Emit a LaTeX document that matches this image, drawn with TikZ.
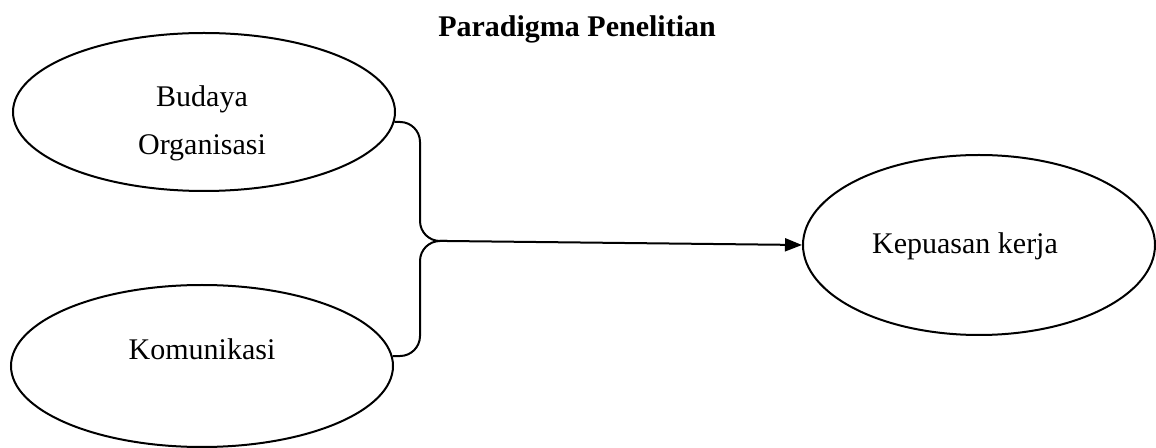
\documentclass[tikz,border=0pt]{standalone}
\usepackage{fontspec}
\setmainfont{Liberation Serif}
\usetikzlibrary{shapes.geometric, arrows.meta}

\begin{document}
\begin{tikzpicture}[
        x=0.5pt, y=-0.5pt,
        oval/.style={ellipse, draw=black, line width=1pt, inner sep=0pt},
        txt/.style={align=center, font=\fontsize{15}{24}\selectfont},
        heading/.style={font=\fontsize{15}{18}\selectfont\bfseries},
        link/.style={draw=black, line width=1pt, rounded corners=10pt}
    ]
        \useasboundingbox (0,0) rectangle (1156,448);

        % Title
        \node (title) at (577,37) [heading, anchor=base] {Paradigma Penelitian};

        % Nodes
        \node (budaya) at (204,112) [oval, minimum width=191pt, minimum height=79pt,
            label={[txt, xshift=-1pt, yshift=-5.5pt]center:Budaya\\Organisasi}] {};
        \node (komunikasi) at (202,366) [oval, minimum width=191pt, minimum height=81pt,
            label={[txt, yshift=8.5pt]center:Komunikasi}] {};
        \node (kepuasan) at (979,245) [oval, minimum width=176pt, minimum height=90pt,
            label={[txt, xshift=-7pt, yshift=-0.5pt]center:Kepuasan kerja}] {};

        % Brace
        \coordinate (spine) at (420,241);
        \coordinate (join) at (447,241);
        \draw[link] (budaya.-3) -| (spine) -- (join);
        \draw[link] (join) -- (spine) |- (komunikasi.3);

        % Arrow
        \draw[link, -{Triangle[length=8.5pt, width=6.5pt]}] (join) -- (kepuasan.west);

    \end{tikzpicture}
\end{document}
